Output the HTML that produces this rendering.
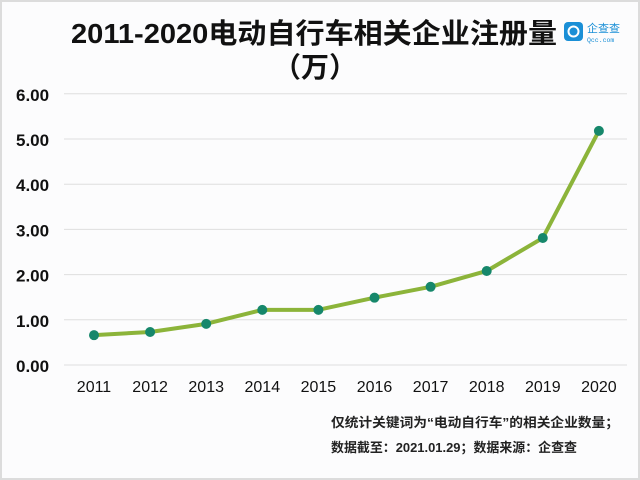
<!DOCTYPE html>
<html><head><meta charset="utf-8"><style>
body{margin:0;background:#fff}
#c{width:640px;height:480px;position:relative;background:#fcfcfd;box-sizing:border-box;border:2px solid #dcdcdc;font-family:"Liberation Sans","Noto Sans CJK SC",sans-serif}
</style></head><body>
<div id="c">
<svg width="640" height="480" style="position:absolute;left:-2px;top:-2px">
<text x="314" y="43" text-anchor="middle" font-size="28" font-weight="bold" fill="#111" textLength="486" lengthAdjust="spacingAndGlyphs" font-family="Liberation Sans, Noto Sans CJK SC, sans-serif">2011-2020电动自行车相关企业注册量</text>
<text x="315" y="77" text-anchor="middle" font-size="28" font-weight="bold" fill="#111" font-family="Liberation Sans, Noto Sans CJK SC, sans-serif">（万）</text>
<g>
<rect x="564" y="22" width="19" height="19" rx="4" fill="#1a8fd6"/>
<circle cx="573.5" cy="31.5" r="5" fill="none" stroke="#fff" stroke-width="2"/>
<text x="587" y="32" font-size="11" fill="#1a8fd6" font-family="Noto Sans CJK SC, sans-serif">企查查</text>
<text x="587" y="42" font-size="6.5" fill="#1a8fd6" font-family="Liberation Mono, monospace">Qcc.com</text>
</g>
<g id="grid"></g><g id="ylab"></g><g id="xlab"></g>
<polyline id="line" fill="none" stroke="#8cb43a" stroke-width="4" stroke-linejoin="round"/>
<g id="dots"></g>
<text x="331" y="427" font-size="13" font-weight="bold" fill="#222" textLength="288" lengthAdjust="spacingAndGlyphs" font-family="Liberation Sans, Noto Sans CJK SC, sans-serif">仅统计关键词为“电动自行车”的相关企业数量；</text>
<text x="331" y="452" font-size="13" font-weight="bold" fill="#222" textLength="246" lengthAdjust="spacingAndGlyphs" font-family="Liberation Sans, Noto Sans CJK SC, sans-serif">数据截至：2021.01.29；数据来源：企查查</text>
</svg>
</div>
<script>
const categories=["2011","2012","2013","2014","2015","2016","2017","2018","2019","2020"];
const values=[0.66,0.73,0.91,1.22,1.22,1.49,1.73,2.08,2.81,5.18];
const yTicks=[0,1,2,3,4,5,6];
const yTickLabels=["0.00","1.00","2.00","3.00","4.00","5.00","6.00"];
const ns="http://www.w3.org/2000/svg";
const Y=v=>365-v*45.2, X=i=>94+i*56.1;
function mk(t,a,p){const e=document.createElementNS(ns,t);for(const k in a)e.setAttribute(k,a[k]);p.appendChild(e);return e;}
const g=document.getElementById('grid'),yl=document.getElementById('ylab'),xl=document.getElementById('xlab'),d=document.getElementById('dots');
yTicks.forEach((t,i)=>{
 const l=mk('line',{x1:64,x2:627,y1:Y(t),y2:Y(t),stroke:'#dedede','stroke-width':1},g);
 
 
 const tx=mk('text',{x:16,y:Y(t)+7,'font-size':17,'font-weight':'bold',fill:'#111'},yl);tx.textContent=yTickLabels[i];
 
 
});
categories.forEach((c,i)=>{
 const tx=mk('text',{x:X(i),y:392,'text-anchor':'middle','font-size':16,fill:'#111'},xl);tx.textContent=c;
 
 
});
document.getElementById('line').setAttribute('points',values.map((v,i)=>X(i)+','+Y(v)).join(' '));
values.forEach((v,i)=>{
 const c=mk('circle',{cx:X(i),cy:Y(v),r:5,fill:'#16876b'},d);
 
 
});
</script>
</body></html>
